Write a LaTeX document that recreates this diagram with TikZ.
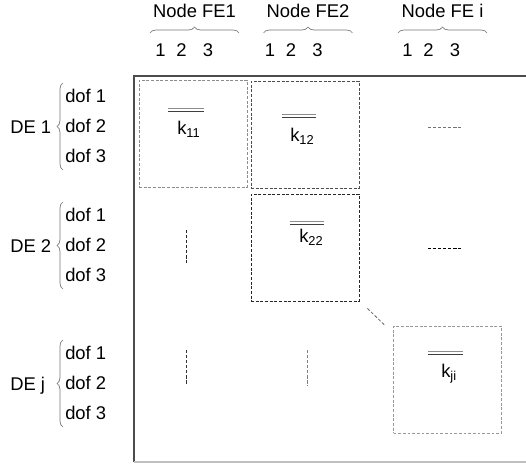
\documentclass[tikz,border=0pt]{standalone}
\usepackage{fontspec}
\setmainfont{Liberation Sans}
\usetikzlibrary{decorations.pathreplacing,calc}

\tikzset{
	lbl/.style={font=\fontsize{13.8}{16}\selectfont, inner sep=0pt},
	brc/.style={draw=black!55, line width=0.5pt, decorate, decoration={brace, amplitude=4.5pt}},
	blockbox/.style={draw=#1, dash pattern=on 2.2pt off 1.3pt, line width=0.6pt,
		minimum width=81pt, minimum height=80.25pt, inner sep=0pt},
	dotsline/.style={draw=#1, dash pattern=on 2.4pt off 1.4pt, line width=0.6pt},
	kbar/.style={line width=0.6pt},
}

\begin{document}
\begin{tikzpicture}[x=0.75pt,y=-0.75pt]
		\useasboundingbox (0,0) rectangle (526,466);

		% frame of the matrix
		\coordinate (tl) at (134,76);
		\coordinate (tr) at (526,76);
		\coordinate (bl) at (134,462);
		\coordinate (br) at (526,462);
		\draw[black!70, line width=1.1pt] (tr) -- (tl) -- (bl);
		\draw[black!25, line width=0.8pt] (bl) -- (br);

		% columns: nodes FE
		\foreach \lbl/\i/\xx/\dd in {Node FE1/1/194.5/160.5, Node FE2/2/308/270, Node FE i/3/442.5/407.5}{
			\node[lbl, anchor=base] (fe\i) at (\xx,18) {\lbl};
			\draw[brc] (\xx-44.5,33) -- (\xx+44.5,33);
			\foreach \d/\dx in {1/0, 2/21, 3/47.5}
				\node[lbl, anchor=base] (col\i\d) at (\dd+\dx,57) {\d};
		}

		% rows: DE
		\foreach \lbl/\i/\yy in {DE 1/1/103, DE 2/2/222, DE j/3/360}{
			\node[lbl, anchor=base west] (de\i) at (10,\yy+31) {\lbl};
			\foreach \d in {1,2,3}
				\node[lbl, anchor=base west] (dof\i\d) at (65,\yy+30*\d-30) {dof \d};
			\draw[brc] (63,\yy+67) -- (63,\yy-20);
		}

		% blocks
		\node[blockbox=black!45] (box11) at (193,133.5) {};
		\node[blockbox=black!70] (box12) at (305,134.5) {};
		\node[blockbox=black!85] (box22) at (305,247.5) {};
		\node[blockbox=black!40] (boxji) at (447.5,379.5) {};

		\node[lbl, anchor=base west] (k11) at (177,135) {k\textsubscript{11}};
		\node[lbl, anchor=base west] (k12) at (290,142) {k\textsubscript{12}};
		\node[lbl, anchor=base west] (k22) at (299,243) {k\textsubscript{22}};
		\node[lbl, anchor=base west] (kji) at (441,378) {k\textsubscript{ji}};

		\foreach \xa/\xb/\yb in {168/204/110.5, 282/316/116.5, 290/324/223, 428/463/353}{
			\draw[kbar, black!45] (\xa,\yb-2) -- (\xb,\yb-2);
			\draw[kbar, black!75] (\xa,\yb+1) -- (\xb,\yb+1);
		}

		% continuation dashes
		\draw[dotsline=black!55] (428,127) -- (461,127);
		\draw[dotsline=black] (428,248) -- (461,248);
		\draw[dotsline=black!85] (186,230) -- (186,263);
		\draw[dotsline=black!80] (186,350) -- (186,385);
		\draw[dotsline=black!50] (307,350) -- (307,386);

		\draw[dotsline=black!60] ($(box22.south east)+(8,7)$) -- ($(boxji.north west)+(-8,0)$);
\end{tikzpicture}
\end{document}
